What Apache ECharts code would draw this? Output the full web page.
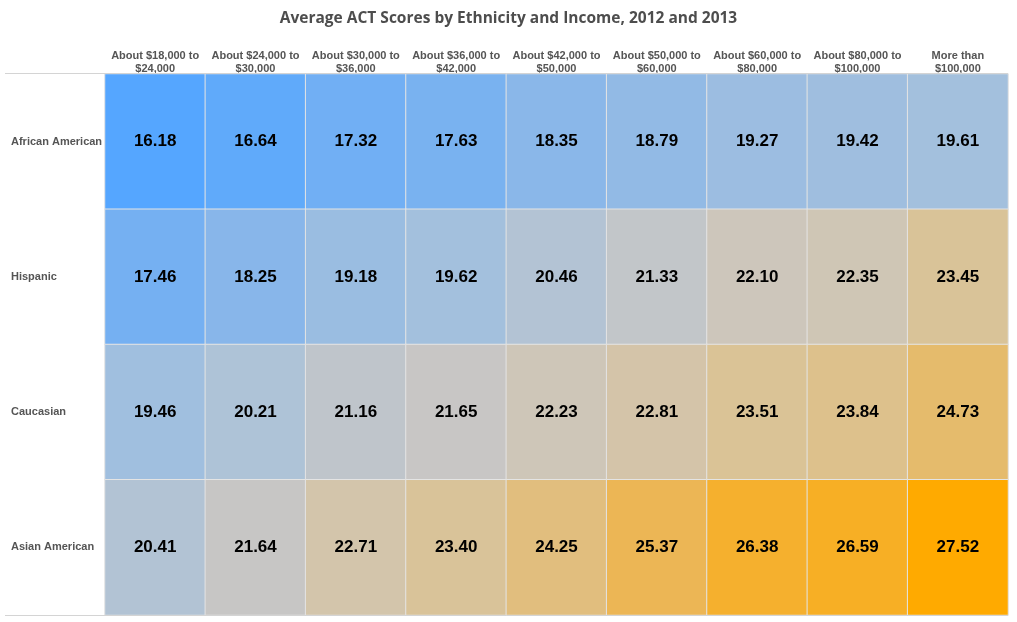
<!DOCTYPE html>
<html><head><meta charset="utf-8">
<script src="https://cdn.jsdelivr.net/npm/echarts@6/dist/echarts.min.js"></script>
<style>html,body{margin:0;padding:0;background:#fff}#c{width:1017px;height:622px}</style>
</head><body><div id="c"></div>
<script>
const incomes = ['About $18,000 to\n$24,000','About $24,000 to\n$30,000','About $30,000 to\n$36,000','About $36,000 to\n$42,000','About $42,000 to\n$50,000','About $50,000 to\n$60,000','About $60,000 to\n$80,000','About $80,000 to\n$100,000','More than\n$100,000'];
const ethnicities = ['African American','Hispanic','Caucasian','Asian American'];
const africanAmerican = [16.18,16.64,17.32,17.63,18.35,18.79,19.27,19.42,19.61];
const hispanic = [17.46,18.25,19.18,19.62,20.46,21.33,22.10,22.35,23.45];
const caucasian = [19.46,20.21,21.16,21.65,22.23,22.81,23.51,23.84,24.73];
const asianAmerican = [20.41,21.64,22.71,23.40,24.25,25.37,26.38,26.59,27.52];

const rows = [africanAmerican, hispanic, caucasian, asianAmerican];
const data = [];
rows.forEach((r, yi) => r.forEach((v, xi) => data.push([xi, yi, v])));
const all = rows.flat();

const chart = echarts.init(document.getElementById('c'));
chart.setOption({
  animation: false,
  title: {
    text: 'Average ACT Scores by Ethnicity and Income, 2012 and 2013',
    left: 'center', top: 6,
    textStyle: {fontFamily: 'Open Sans', fontWeight: 'bold', fontSize: 15.5, color: '#4d4d4d'}
  },
  grid: {left: 105, right: 9, top: 74, bottom: 7},
  xAxis: {
    type: 'category', data: incomes, position: 'top',
    axisLine: {show: false}, axisTick: {show: false}, splitLine: {show: false},
    axisLabel: {interval: 0, margin: -1, fontFamily: 'Arial', fontWeight: 'bold', fontSize: 11, color: '#555', lineHeight: 13, align: 'center'}
  },
  yAxis: {
    type: 'category', data: ethnicities, inverse: true,
    axisLine: {show: false}, axisTick: {show: false}, splitLine: {show: false},
    axisLabel: {margin: 94, align: 'left', fontFamily: 'Arial', fontWeight: 'bold', fontSize: 11, color: '#555'}
  },
  visualMap: {
    show: false, type: 'continuous', min: Math.min(...all), max: Math.max(...all),
    inRange: {color: ['#55a6ff','#84b5ec','#aac2da','#cbc7c2','#dcc290','#eeb44c','#ffaa00']}
  },
  series: [{
    type: 'heatmap', data: data,
    itemStyle: {borderColor: '#e4e4e4', borderWidth: 1},
    label: {show: true, formatter: p => p.value[2].toFixed(2), fontFamily: 'Arial', fontWeight: 'bold', fontSize: 17, color: '#000'},
    emphasis: {disabled: true}
  }],
  graphic: [
    {type: 'line', shape: {x1: 5, y1: 73.5, x2: 1008, y2: 73.5}, style: {stroke: '#d4d4d4', lineWidth: 1}, z: 100},
    {type: 'line', shape: {x1: 5, y1: 615.5, x2: 1008, y2: 615.5}, style: {stroke: '#d4d4d4', lineWidth: 1}, z: 100}
  ]
});
</script></body></html>
